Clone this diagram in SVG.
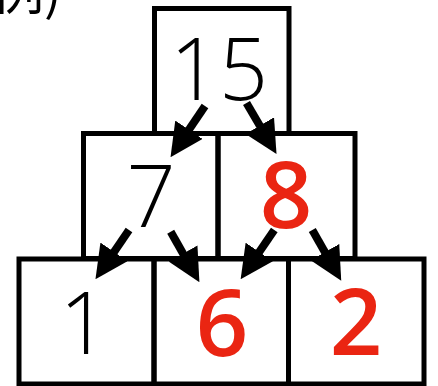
<svg xmlns="http://www.w3.org/2000/svg" width="438" height="386" viewBox="0 0 438 386">
<style>
.box{fill:none;stroke:#000;stroke-width:5}
.n{font-size:86px;text-anchor:middle}
.k{fill:#000;font-family:"Open Sans","Noto Sans",sans-serif;font-weight:300}
.r{fill:#ea2512;font-family:"Open Sans","Noto Sans",sans-serif;font-weight:600;font-size:92px}
.lbl{font-family:"Noto Sans CJK JP",sans-serif;font-size:52px;fill:#000}
.arr line{stroke:#000;stroke-width:8}
</style>
<defs>
<marker id="ah" viewBox="0 -16.5 33 33" refX="1" refY="0" markerWidth="33" markerHeight="33" markerUnits="userSpaceOnUse" orient="auto">
<path d="M0,-16.5 L33,0 L0,16.5 z" fill="#000"/>
</marker>
</defs>
<rect width="438" height="386" fill="#fff"/>
<text class="lbl" x="-8" y="10">例)</text>
<g id="n15"><rect class="box" x="154.5" y="8.5" width="134.5" height="125"/><text class="n k" x="219" y="100">15</text></g>
<g id="n7"><rect class="box" x="83.5" y="133.5" width="134.5" height="125"/><text class="n k" x="151" y="227">7</text></g>
<g id="n8"><rect class="box" x="218" y="133.5" width="137" height="125"/><text class="n r" x="286" y="228">8</text></g>
<g id="n1"><rect class="box" x="19" y="259" width="135" height="125"/><text class="n k" x="84" y="354">1</text></g>
<g id="n6"><rect class="box" x="154" y="259" width="134.5" height="125"/><text class="n r" x="222" y="356">6</text></g>
<g id="n2"><rect class="box" x="288.5" y="259" width="135.5" height="125"/><text class="n r" x="356" y="355">2</text></g>
<g id="connectors" class="arr">
<line x1="205" y1="106" x2="188.4" y2="130.6" marker-end="url(#ah)"/>
<line x1="246.5" y1="103" x2="260.3" y2="126.5" marker-end="url(#ah)"/>
<line x1="129" y1="230" x2="113.5" y2="252.7" marker-end="url(#ah)"/>
<line x1="170.7" y1="231.7" x2="183.6" y2="254.4" marker-end="url(#ah)"/>
<line x1="274.3" y1="230" x2="258.7" y2="252.8" marker-end="url(#ah)"/>
<line x1="312.3" y1="230" x2="325.4" y2="253" marker-end="url(#ah)"/>
</g>
</svg>
